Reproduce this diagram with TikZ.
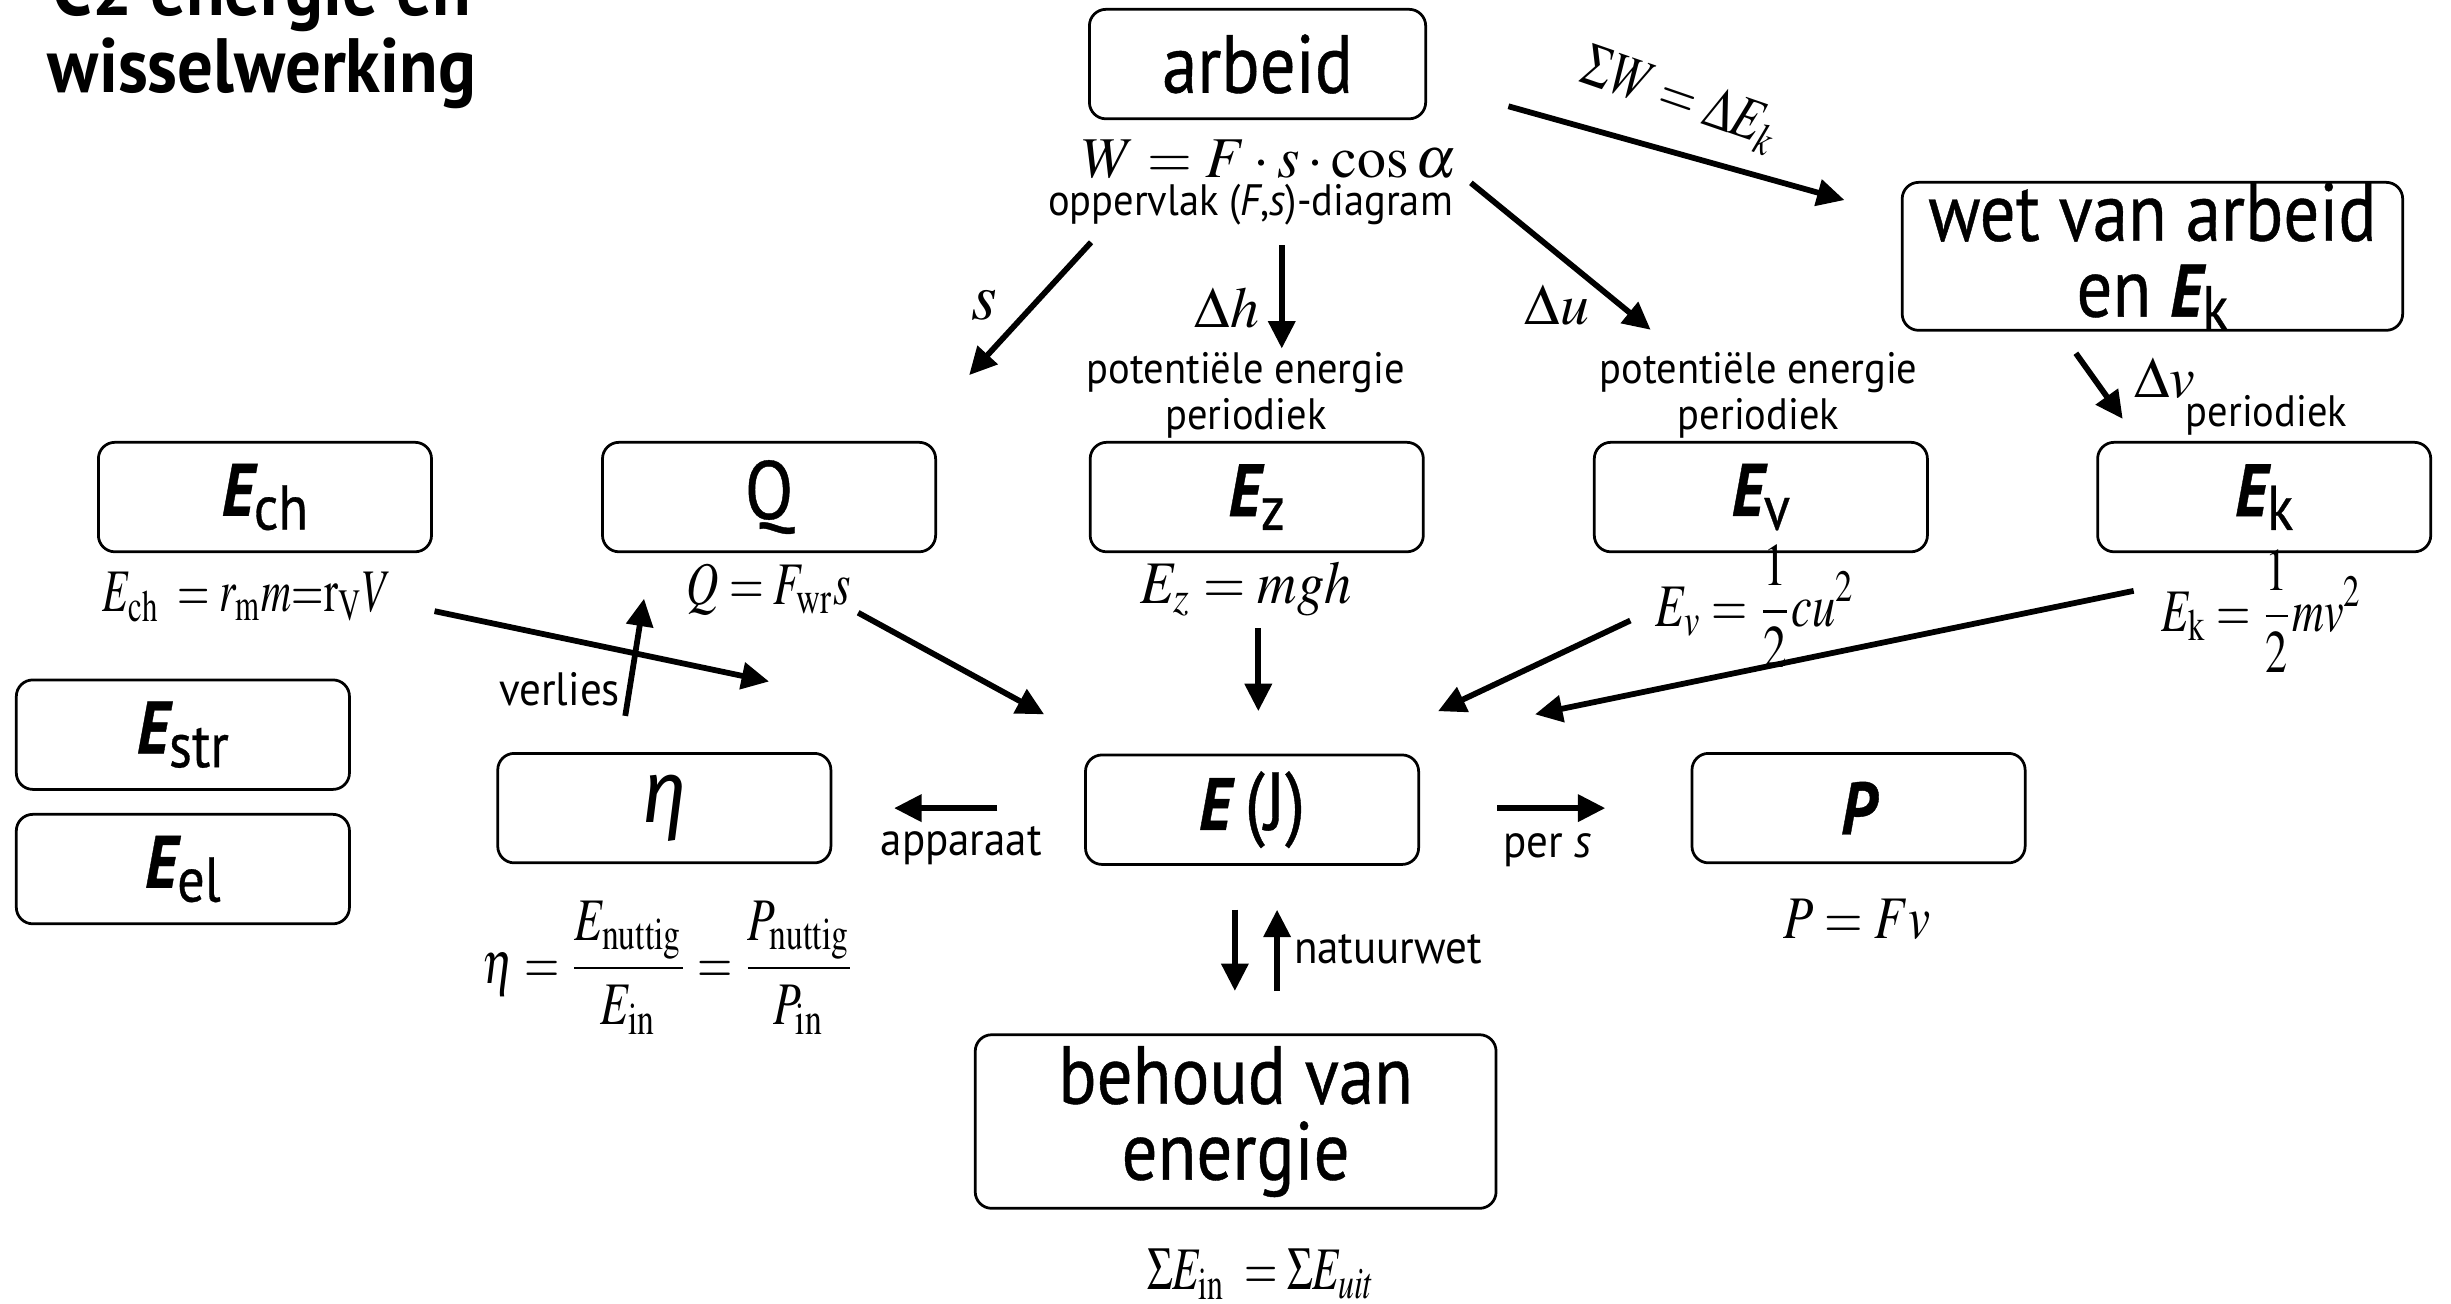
\documentclass[tikz,border=0pt]{standalone}
\usepackage{graphicx}
\usepackage{mathptmx}
\usepackage[no-math]{fontspec}
\setmainfont{PT Sans}[FakeStretch=0.92]
\newfontfamily\boxfont{PT Sans}[FakeStretch=0.86, FakeBold=0.5]
\newfontfamily\grkfont{Fira Sans}[FakeStretch=0.9]
\usetikzlibrary{arrows.meta}
\newcommand{\Esub}[1]{{\fontsize{13.5}{13.5}\selectfont\bfseries\itshape E}\raisebox{-2.5pt}{\fontsize{11.5}{11.5}\selectfont #1}}
\newcommand{\hsq}[2]{\scalebox{#1}[1]{#2}}
\tikzset{
  box/.style={draw, line width=0.5pt, rounded corners=3pt, inner sep=0pt,
              minimum width=2.13cm, minimum height=0.70cm, align=center,
              font=\boxfont\fontsize{15}{13.8}\selectfont},
  arr/.style={line width=1.05pt, -{Triangle[length=5pt,width=4.8pt]}},
  lbl/.style={inner sep=0pt, align=center, font=\fontsize{8}{7.2}\selectfont},
  slbl/.style={inner sep=0pt, align=center, font=\fontsize{8.5}{9}\selectfont},
  frm/.style={inner sep=0pt, font=\fontsize{11}{13}\selectfont},
  ttl/.style={inner sep=0pt, anchor=base west, font=\bfseries\fontsize{14}{14}\selectfont}
}
\begin{document}
\begin{tikzpicture}[x=0.01cm, y=-0.01cm]
\useasboundingbox (0,0) rectangle (1568,834);
\clip (0,0) rectangle (1568,834);

% title
\node[ttl] (title1) at (33,10) {C2 energie en};
\node[ttl] (title2) at (30,59) {wisselwerking};

% boxes
\node[box, minimum width=2.15cm] (arbeid) at (804.5,41) {arbeid};
\node[box, minimum width=3.20cm, minimum height=0.94cm] (wet) at (1377,164) {wet van arbeid\\en \Esub{k}};
\node[box] (Ech) at (169.5,318) {\Esub{ch}};
\node[box] (Q) at (492,318) {Q};
\node[box] (Ez) at (804,318) {\Esub{z}};
\node[box] (Ev) at (1126.5,318) {\Esub{v}};
\node[box] (Ek) at (1448.5,318) {\Esub{k}};
\node[box] (Estr) at (117,470) {\Esub{str}};
\node[box] (Eel) at (117,556) {\Esub{el}};
\node[box] (eta) at (425,517) {{\grkfont\itshape\fontsize{16}{16}\selectfont η}};
\node[box] (E) at (801,518) {{\fontsize{13.5}{13.5}\selectfont\bfseries\itshape E}\,(J)};
\node[box] (P) at (1189,517) {{\fontsize{13.5}{13.5}\selectfont\bfseries\itshape P}};
\node[box, minimum width=3.33cm, minimum height=1.11cm] (behoud) at (790.5,717.5) {behoud van\\energie};

% formulas and labels
\node[frm, font=\fontsize{10.5}{12}\selectfont] (fW) at (812,102) {$W=F\cdot s\cdot\cos\alpha$};
\node[lbl] (opp) at (800,131) {oppervlak (\textit{F},\textit{s})-diagram};
\node[lbl] (potz) at (797,253) {potentiële energie\\periodiek};
\node[lbl] (potv) at (1125,253) {potentiële energie\\periodiek};
\node[lbl] (perk) at (1450,266) {periodiek};
\node[frm] (fch) at (158,382) {\hsq{0.69}{$E_{\mathrm{ch}}\;=r_{\mathrm{m}}m{=}\mathrm{r}_{\mathrm{V}}V$}};
\node[frm] (fQ) at (492,377) {\hsq{0.74}{$Q=F_{\mathrm{wr}}s$}};
\node[frm] (fz) at (797,377) {\hsq{0.9}{$E_z=mgh$}};
\node[frm] (fv) at (1123,388) {\hsq{0.77}{$E_v=\displaystyle\frac{1}{2}cu^2$}};
\node[frm] (fk) at (1447,391) {\hsq{0.73}{$E_{\mathrm{k}}=\displaystyle\frac{1}{2}mv^2$}};
\node[frm] (feta) at (428,619) {\hsq{0.75}{$\eta=\displaystyle\frac{E_{\mathrm{nuttig}}}{E_{\mathrm{in}}}=\frac{P_{\mathrm{nuttig}}}{P_{\mathrm{in}}}$}};
\node[frm] (fP) at (1188,588) {\hsq{0.82}{$P=Fv$}};
\node[frm] (fbeh) at (807,815) {\hsq{0.71}{$\Sigma E_{\mathrm{in}}\;=\Sigma E_{uit}$}};
\node[frm, rotate=-19] (fsw) at (1075,64) {\hsq{0.78}{$\Sigma W=\Delta E_{k}$}};
\node[frm, font=\fontsize{12}{12}\selectfont] (ls) at (630,195) {$s$};
\node[frm, font=\fontsize{10.5}{12}\selectfont] (lh) at (785,197) {$\Delta h$};
\node[frm, font=\fontsize{10.5}{12}\selectfont] (lu) at (996,195) {$\Delta u$};
\node[frm, font=\fontsize{10.5}{12}\selectfont] (lv) at (1385,242) {$\Delta v$};
\node[slbl] (lverl) at (358,441) {verlies};
\node[slbl] (lapp) at (615,541) {apparaat};
\node[slbl] (lpers) at (990,544) {per \textit{s}};
\node[slbl] (lnat) at (888,607) {natuurwet};

% arrow end points
\coordinate (a1s) at (965,68);   \coordinate (a1e) at (1180,128);
\coordinate (a2s) at (698,155);  \coordinate (a2e) at (620,240);
\coordinate (a3s) at (820,157);  \coordinate (a3e) at (820,223);
\coordinate (a4s) at (941,117);  \coordinate (a4e) at (1056,211);
\coordinate (a5s) at (1328,226); \coordinate (a5e) at (1358,268);
\coordinate (a6s) at (278,391);  \coordinate (a6e) at (492,436);
\coordinate (a7s) at (400,458);  \coordinate (a7e) at (412,383);
\coordinate (a8s) at (549,392);  \coordinate (a8e) at (668,457);
\coordinate (a9s) at (805,402);  \coordinate (a9e) at (805,455);
\coordinate (a10s) at (1043,397); \coordinate (a10e) at (920,455);
\coordinate (a11s) at (1365,378); \coordinate (a11e) at (982,457);
\coordinate (a12s) at (638,517); \coordinate (a12e) at (572,517);
\coordinate (a13s) at (958,517); \coordinate (a13e) at (1027,517);
\coordinate (a14s) at (790,582); \coordinate (a14e) at (790,634);
\coordinate (a15s) at (817,634); \coordinate (a15e) at (817,582);

\foreach \i in {1,...,15} \draw[arr] (a\i s) -- (a\i e);
\end{tikzpicture}
\end{document}
